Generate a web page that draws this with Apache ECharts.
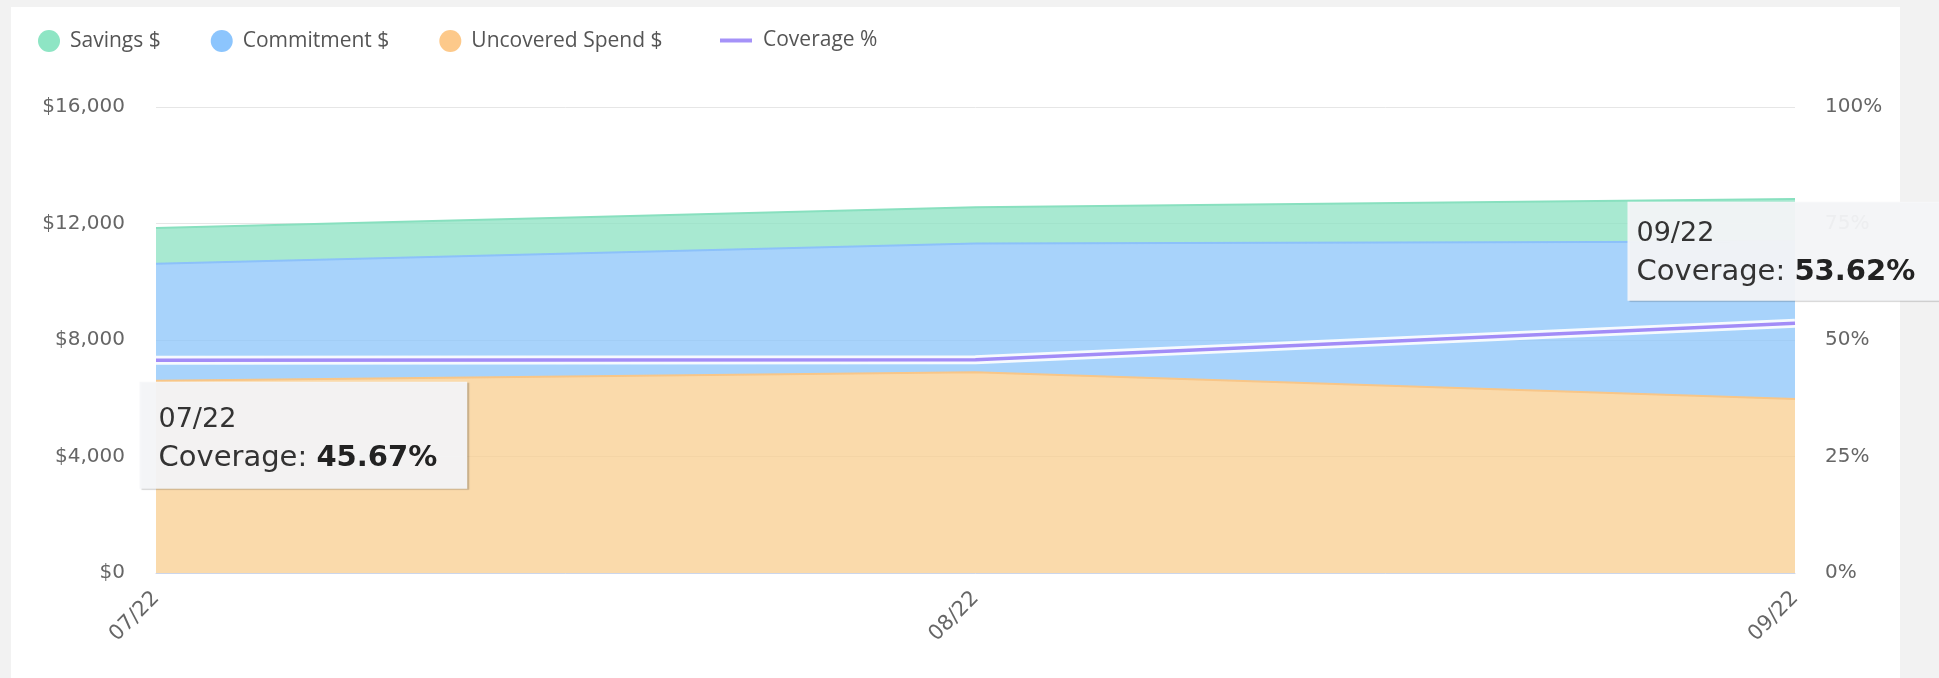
<!DOCTYPE html>
<html>
<head>
<meta charset="utf-8">
<script src="https://cdn.jsdelivr.net/npm/echarts@6/dist/echarts.min.js"></script>
<style>
  html, body { margin: 0; padding: 0; background: #f2f2f2; width: 1939px; height: 678px; overflow: hidden; }
  #panel { position: absolute; left: 11px; top: 7px; width: 1889px; height: 671px; background: #ffffff; }
  #chart { position: absolute; left: 0; top: 0; width: 1939px; height: 678px; }
</style>
</head>
<body>
<div id="panel"></div>
<div id="chart"></div>
<script>
// ---- data ----
const categories = ['07/22', '08/22', '09/22'];
const uncoveredSpend = [6600, 6890, 5975];
const commitment = [4020, 4420, 5410];
const savings = [1225, 1245, 1455];
const coveragePct = [45.67, 45.74, 53.62];
const calloutIndices = [0, 2];

const chart = echarts.init(document.getElementById('chart'), null, { renderer: 'canvas' });

const axisFont = 'DejaVu Sans';
const legendFont = 'Open Sans';

function callout(idx, cfg) {
  return {
    coord: [idx, coveragePct[idx]],
    label: {
      show: true,
      position: cfg.position,
      formatter: '{d|' + categories[idx] + '}\n{c|Coverage: }{b|' + coveragePct[idx].toFixed(2) + '%}',
      backgroundColor: 'rgba(245,247,249,0.95)',
      shadowColor: 'rgba(0,0,0,0.22)',
      shadowBlur: 1,
      shadowOffsetX: 2,
      shadowOffsetY: 1,
      padding: cfg.padding,
      align: 'left',
      verticalAlign: 'top',
      rich: {
        d: { fontFamily: axisFont, fontSize: 27, lineHeight: 36, color: '#333' },
        c: { fontFamily: axisFont, fontSize: 29, lineHeight: cfg.lh2, color: '#333' },
        b: { fontFamily: axisFont, fontSize: 29, lineHeight: cfg.lh2, color: '#222', fontWeight: 'bold' }
      }
    }
  };
}

const option = {
  animation: false,
  backgroundColor: 'transparent',
  legend: [
    {
      left: 33, top: 25,
      itemWidth: 22, itemHeight: 22, itemGap: 50,
      icon: 'circle',
      data: ['Savings $', 'Commitment $', 'Uncovered Spend $'],
      textStyle: { fontFamily: legendFont, fontSize: 21, color: '#555', padding: [0, 0, 0, 5] }
    },
    {
      left: 715, top: 25,
      itemWidth: 32, itemHeight: 22,
      data: [{ name: 'Coverage %', icon: 'path://M0,0 H32 V4 H0 Z' }],
      textStyle: { fontFamily: legendFont, fontSize: 21, color: '#555', padding: [0, 0, 0, 6] }
    }
  ],
  grid: { left: 156, right: 144, top: 107, bottom: 105 },
  xAxis: {
    type: 'category',
    data: categories,
    boundaryGap: false,
    axisLine: { lineStyle: { color: '#ccd6eb', width: 1 } },
    axisTick: { show: false },
    axisLabel: { rotate: 45, margin: 22, fontFamily: axisFont, fontSize: 21, color: '#666' },
    splitLine: { show: false }
  },
  yAxis: [
    {
      type: 'value', min: 0, max: 16000, interval: 4000,
      axisLine: { show: false }, axisTick: { show: false },
      axisLabel: {
        margin: 31, fontFamily: axisFont, fontSize: 20, color: '#666',
        formatter: v => '$' + v.toLocaleString('en-US')
      },
      splitLine: { lineStyle: { color: '#e6e6e6', width: 1 } }
    },
    {
      type: 'value', min: 0, max: 100, interval: 25, position: 'right', z: -1,
      axisLine: { show: false }, axisTick: { show: false },
      axisLabel: { margin: 30, fontFamily: axisFont, fontSize: 20, color: '#666', formatter: '{value}%' },
      splitLine: { show: false }
    }
  ],
  series: [
    {
      name: 'Uncovered Spend $', type: 'line', stack: 'spend', data: uncoveredSpend,
      showSymbol: false, z: 2,
      itemStyle: { color: '#fdc98a' },
      lineStyle: { color: '#f8c688', width: 2 },
      areaStyle: { color: 'rgba(248,205,143,0.75)', opacity: 1 }
    },
    {
      name: 'Commitment $', type: 'line', stack: 'spend', data: commitment,
      showSymbol: false, z: 2,
      itemStyle: { color: '#8cc5fd' },
      lineStyle: { color: '#8cc1fa', width: 2 },
      areaStyle: { color: 'rgba(139,196,250,0.75)', opacity: 1 }
    },
    {
      name: 'Savings $', type: 'line', stack: 'spend', data: savings,
      showSymbol: false, z: 2,
      itemStyle: { color: '#8ee5c4' },
      lineStyle: { color: '#88e0bf', width: 2 },
      areaStyle: { color: 'rgba(139,226,194,0.75)', opacity: 1 }
    },
    {
      name: 'coverage-outline', type: 'line', yAxisIndex: 1, data: coveragePct,
      showSymbol: false, silent: true, z: 3,
      lineStyle: { color: 'rgba(255,255,255,0.9)', width: 9 }
    },
    {
      name: 'Coverage %', type: 'line', yAxisIndex: 1, data: coveragePct,
      showSymbol: false, z: 4,
      itemStyle: { color: '#a592f8' },
      lineStyle: { color: '#a28cf7', width: 3.5 },
      markPoint: {
        z: 20,
        symbol: 'circle', symbolSize: 1,
        itemStyle: { color: 'rgba(0,0,0,0)' },
        data: [
          callout(calloutIndices[0], { position: [-16, 22], padding: [20, 30, 10, 19], lh2: 41 }),
          callout(calloutIndices[1], { position: [-167, -121], padding: [14, 40, 7, 9], lh2: 42 })
        ]
      }
    }
  ]
};

chart.setOption(option);
</script>
</body>
</html>
